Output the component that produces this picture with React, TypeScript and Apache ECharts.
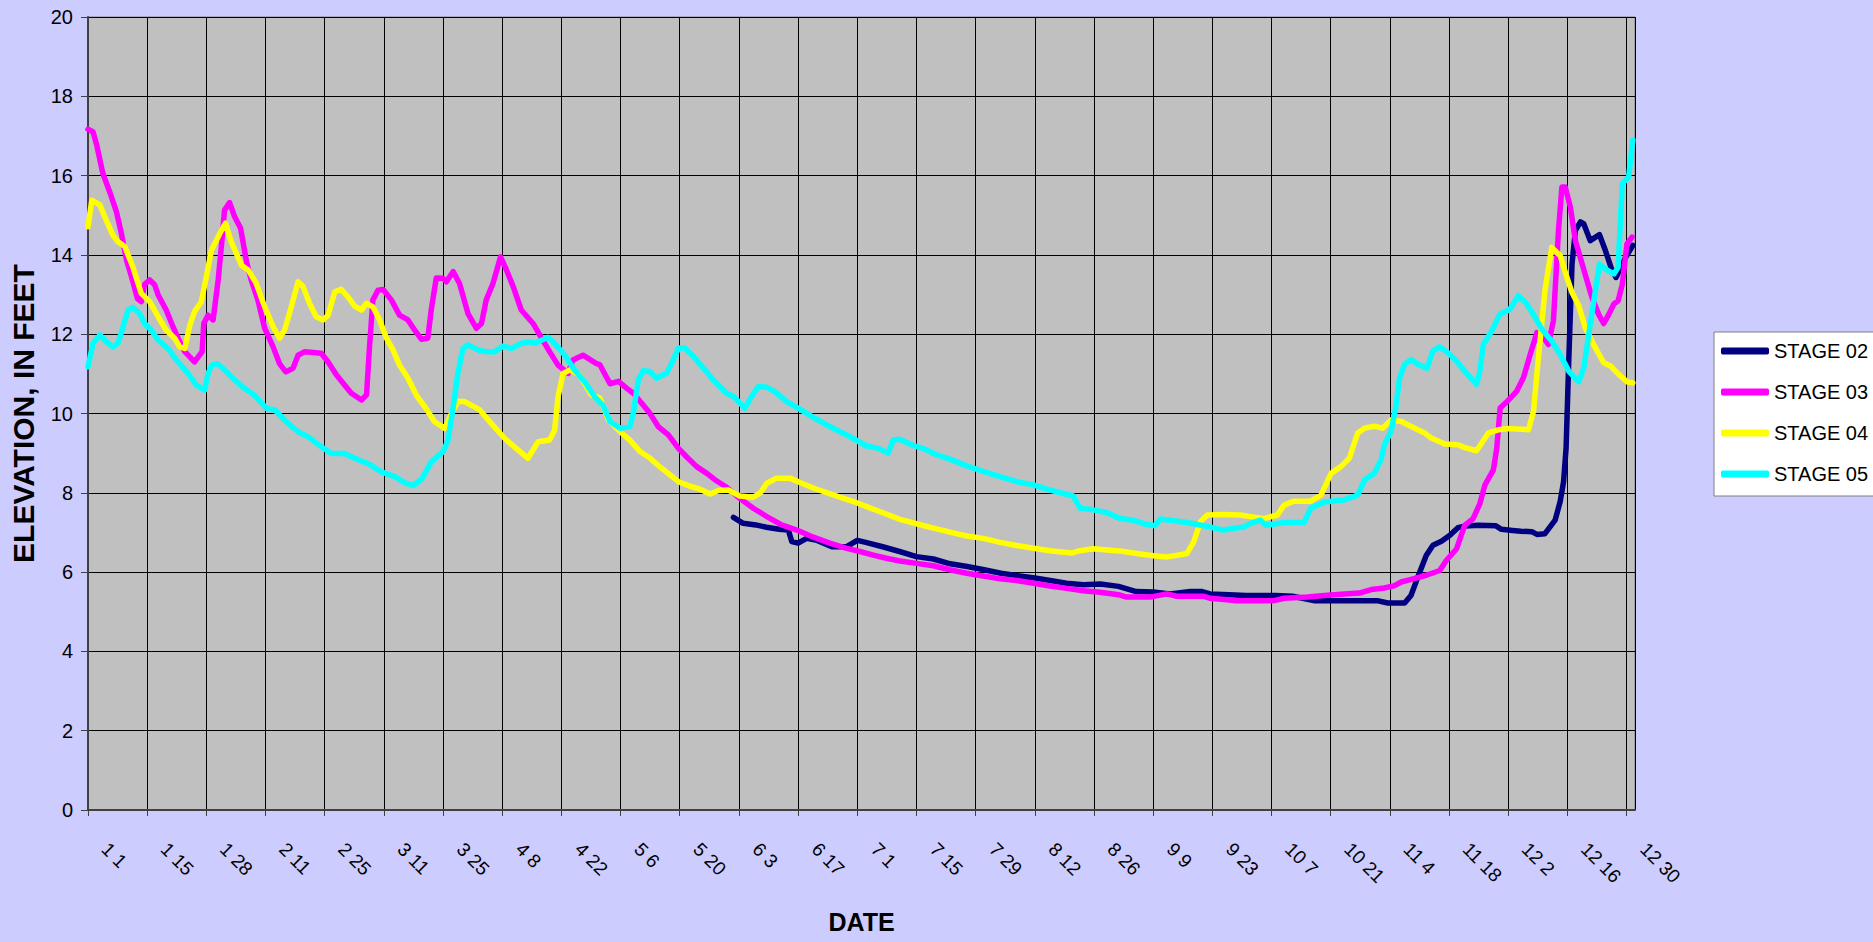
import React, { useEffect, useRef } from "react";
import * as echarts from "echarts";

// Tick labels on the date axis (one every 14 days, day index 0 = Jan 1)
const DATE_TICK_LABELS = [
  "1 1", "1 15", "1 28", "2 11", "2 25", "3 11", "3 25", "4 8", "4 22", "5 6",
  "5 20", "6 3", "6 17", "7 1", "7 15", "7 29", "8 12", "8 26", "9 9", "9 23",
  "10 7", "10 21", "11 4", "11 18", "12 2", "12 16", "12 30",
];

const SERIES_NAMES = ["STAGE 02", "STAGE 03", "STAGE 04", "STAGE 05"];

// [day index, elevation in feet]
const STAGE_02: [number, number][] = [
  [152.7, 7.38], [155, 7.23], [158, 7.19], [160.5, 7.13], [163.5, 7.08], [165.7, 7.06], [166.5, 6.77],
  [168, 6.73], [170, 6.85], [172.5, 6.8], [176, 6.64], [179.5, 6.64], [182, 6.8], [184, 6.75], [188, 6.64],
  [192, 6.52], [196, 6.39], [200, 6.33], [204, 6.21], [208, 6.14], [212, 6.06], [216, 5.97], [220, 5.91],
  [224, 5.85], [228, 5.78], [231.5, 5.72], [235.5, 5.68], [239.5, 5.7], [243.8, 5.64], [248, 5.51],
  [252, 5.5], [256, 5.45], [260.8, 5.51], [263.6, 5.51], [265.5, 5.45], [270, 5.43], [274, 5.41],
  [281, 5.41], [285, 5.39], [290, 5.28], [297, 5.28], [305, 5.28], [307.5, 5.22], [311.5, 5.22],
  [313, 5.41], [314.6, 5.87], [316.6, 6.42], [318.2, 6.68], [320.2, 6.78], [322.2, 6.93], [324.1, 7.12],
  [325.7, 7.16], [329, 7.18], [333, 7.17], [334.4, 7.08], [337, 7.05], [339, 7.03], [341.6, 7.02],
  [342.8, 6.95], [344.7, 6.97], [347.1, 7.31], [348.3, 7.78], [349.1, 8.28], [349.7, 9.13], [350.3, 11.24],
  [351.1, 13.77], [351.9, 14.62], [353.1, 14.83], [353.9, 14.78], [355.4, 14.36], [357.6, 14.51],
  [359, 14.11], [360.3, 13.69], [361.5, 13.43], [363.8, 13.94], [365.5, 14.24],
];

const STAGE_03: [number, number][] = [
  [0, 17.17], [1.2, 17.1], [2, 16.8], [3.5, 16.06], [5.1, 15.6], [6.7, 15.1], [7.9, 14.54], [9.1, 13.87],
  [10.3, 13.45], [11.7, 12.9], [12.6, 12.82], [13.4, 13.26], [14.6, 13.37], [15.8, 13.24], [16.6, 12.99],
  [18.5, 12.61], [20.1, 12.19], [21.3, 11.9], [22.9, 11.56], [25.2, 11.3], [27, 11.56], [27.4, 12.27],
  [28.4, 12.48], [29.6, 12.36], [30.8, 13.37], [31.7, 14.38], [32.3, 15.13], [33.5, 15.32], [34.7, 14.96],
  [36.1, 14.67], [37.5, 13.83], [38.6, 13.37], [40.2, 12.86], [41.8, 12.15], [43.8, 11.68], [45.3, 11.26],
  [46.8, 11.05], [48.5, 11.14], [49.7, 11.47], [51.3, 11.56], [55.2, 11.52], [56.8, 11.3], [58.8, 10.97],
  [60.7, 10.72], [62.3, 10.51], [64.7, 10.34], [65.9, 10.47], [66.6, 11.68], [67.4, 12.86], [68.6, 13.11],
  [69.8, 13.13], [71.8, 12.86], [73.7, 12.48], [75.7, 12.36], [77.3, 12.1], [78.9, 11.87], [80.4, 11.9],
  [81.2, 12.61], [82.4, 13.42], [84, 13.41], [84.8, 13.32], [86.4, 13.58], [87.9, 13.28], [89.9, 12.52],
  [91.9, 12.15], [93.1, 12.27], [94.2, 12.86], [95.8, 13.28], [97.6, 13.95], [99, 13.62], [100.6, 13.2],
  [102.5, 12.61], [105.3, 12.27], [107.3, 11.9], [109.2, 11.56], [111.2, 11.22], [113.6, 11.01],
  [114.7, 11.35], [117.1, 11.47], [120.3, 11.26], [121.1, 11.23], [123.5, 10.75], [125.5, 10.81],
  [127.4, 10.64], [129, 10.51], [131, 10.26], [132.9, 10.01], [134.9, 9.67], [137.3, 9.46], [139.7, 9.12],
  [141.6, 8.91], [144, 8.66], [146.4, 8.49], [148.3, 8.33], [151.1, 8.14], [154.2, 7.86], [157.4, 7.61],
  [160.6, 7.4], [164.1, 7.19], [167.7, 7.06], [171.6, 6.88], [175.5, 6.73], [179.5, 6.6], [182.6, 6.52],
  [185.8, 6.43], [188.9, 6.35], [192.1, 6.28], [196, 6.22], [200, 6.16], [203.9, 6.06], [207.9, 5.97],
  [211.8, 5.9], [215.8, 5.83], [219.7, 5.79], [223.7, 5.72], [227.6, 5.65], [231.5, 5.59], [235.5, 5.53],
  [239.4, 5.49], [243.8, 5.43], [245.7, 5.37], [251.3, 5.37], [255.2, 5.45], [257.6, 5.39], [264, 5.39],
  [265.5, 5.34], [271.9, 5.28], [280.6, 5.28], [283, 5.34], [288.5, 5.37], [292.5, 5.41], [297.2, 5.45],
  [300.8, 5.47], [303.6, 5.56], [306.7, 5.6], [309.1, 5.66], [310.7, 5.75], [313.5, 5.83], [316.6, 5.92],
  [319.8, 6.04], [321.4, 6.3], [323.8, 6.59], [325.7, 7.18], [327.7, 7.35], [329.3, 7.73], [330.5, 8.2],
  [332.5, 8.58], [333.3, 9.13], [334.1, 10.14], [336, 10.33], [338, 10.56], [339.6, 10.9], [341.2, 11.49],
  [342.8, 12.04], [344.4, 11.91], [345.5, 11.74], [346.7, 12.34], [347.9, 14.62], [348.7, 15.71],
  [349.5, 15.71], [350.7, 15.21], [351.9, 14.36], [353.5, 13.77], [355.8, 12.93], [357.4, 12.5],
  [358.6, 12.27], [359.8, 12.5], [361, 12.76], [362, 12.84], [363, 13.26], [364.1, 14.28], [365.3, 14.45],
];

const STAGE_04: [number, number][] = [
  [0, 14.71], [0.9, 15.38], [2.8, 15.26], [4.3, 14.88], [5.9, 14.5], [7.1, 14.33], [8.7, 14.21],
  [10.6, 13.7], [12.6, 13.03], [14.6, 12.82], [16.6, 12.44], [18.5, 12.1], [20.5, 11.9], [21.7, 11.68],
  [22.9, 11.64], [24.1, 12.23], [25.2, 12.57], [26.8, 12.82], [28, 13.45], [29.2, 14.12], [31.2, 14.54],
  [32.5, 14.8], [33.9, 14.33], [36.3, 13.74], [37.9, 13.62], [39.8, 13.28], [41.8, 12.69], [43.8, 12.19],
  [45.3, 11.9], [46.5, 12.1], [48.1, 12.69], [49.7, 13.32], [50.9, 13.2], [52.4, 12.78], [54, 12.44],
  [55.6, 12.36], [56.8, 12.48], [58.4, 13.07], [59.9, 13.13], [61.5, 12.94], [63.1, 12.71], [64.7, 12.61],
  [65.9, 12.78], [67.4, 12.69], [69, 12.36], [70.6, 11.9], [72.2, 11.6], [73.7, 11.22], [75.7, 10.89],
  [77.7, 10.46], [79.7, 10.17], [82, 9.79], [84.4, 9.62], [86, 10], [87.5, 10.3], [89.1, 10.3],
  [92.7, 10.09], [95.4, 9.75], [98.6, 9.37], [101.3, 9.12], [104.1, 8.87], [106.5, 9.29], [109.2, 9.33],
  [110.4, 9.58], [111.2, 10.42], [112.4, 11.01], [114, 11.1], [116.3, 10.97], [119.1, 10.47],
  [121.1, 10.39], [123.1, 9.84], [125.9, 9.54], [128.2, 9.33], [130.6, 9.04], [133, 8.87], [135.7, 8.62],
  [139.7, 8.28], [142.4, 8.17], [144.8, 8.09], [147.2, 7.97], [149.1, 8.06], [151.5, 8.07], [154.2, 7.92],
  [157.4, 7.89], [159, 7.99], [160.6, 8.24], [162.9, 8.37], [166.1, 8.37], [168.4, 8.26], [172.4, 8.09],
  [176.3, 7.95], [181.1, 7.78], [184.2, 7.65], [188.2, 7.49], [192.1, 7.33], [196, 7.22], [200, 7.11],
  [203.9, 7.01], [207.9, 6.91], [211.8, 6.85], [215.8, 6.75], [219.7, 6.67], [223.7, 6.6], [227.6, 6.54],
  [232.7, 6.48], [234.7, 6.54], [237.8, 6.59], [241.8, 6.55], [244.2, 6.53], [248.1, 6.47], [252.1, 6.41],
  [255.2, 6.38], [256.8, 6.41], [260, 6.47], [261.6, 6.76], [263.2, 7.27], [264.8, 7.44], [268.7, 7.45],
  [272.7, 7.44], [275, 7.4], [278.2, 7.35], [281.4, 7.44], [283, 7.69], [285.3, 7.79], [289.3, 7.79],
  [291.7, 7.94], [294.1, 8.49], [296.4, 8.66], [298.4, 8.87], [300.4, 9.51], [302, 9.63], [304.3, 9.68],
  [306.3, 9.63], [308.3, 9.84], [310.7, 9.8], [313.9, 9.63], [316.2, 9.51], [317.8, 9.38], [321, 9.23],
  [324.1, 9.21], [325.7, 9.14], [328.5, 9.06], [329.7, 9.25], [331.3, 9.51], [333.7, 9.59], [336, 9.62],
  [338, 9.61], [340.8, 9.59], [342, 10.06], [343, 11.24], [344.7, 13.1], [346.3, 14.19], [348.3, 13.98],
  [349.9, 13.43], [351.1, 13.05], [352.7, 12.72], [354.2, 12.17], [356.6, 11.66], [358.6, 11.28],
  [360.2, 11.2], [362.2, 10.98], [364.1, 10.8], [365.5, 10.77],
];

const STAGE_05: [number, number][] = [
  [0, 11.18], [1.2, 11.77], [2.8, 11.98], [4.3, 11.81], [5.9, 11.68], [7.1, 11.77], [8.3, 12.19],
  [9.5, 12.61], [10.6, 12.68], [12.2, 12.52], [13.4, 12.27], [15, 12.1], [16.6, 11.85], [18.9, 11.64],
  [20.9, 11.35], [23.7, 11.01], [25.6, 10.72], [27.6, 10.59], [28.4, 11.01], [29.3, 11.22], [30.6, 11.26],
  [32.3, 11.1], [34.7, 10.84], [37.1, 10.63], [39.4, 10.46], [42.2, 10.13], [44.2, 10.09], [46.5, 9.83],
  [49.7, 9.54], [52.1, 9.41], [55.2, 9.16], [57.6, 8.99], [60.7, 8.99], [63.1, 8.87], [66.2, 8.74],
  [69.4, 8.53], [72.6, 8.41], [75, 8.25], [77, 8.18], [79, 8.35], [81.2, 8.78], [84, 9.04], [85.2, 9.33],
  [86.4, 10.17], [87.5, 11.01], [88.7, 11.64], [89.9, 11.73], [92.7, 11.58], [94.6, 11.56], [96.2, 11.56],
  [98.2, 11.7], [100.2, 11.64], [102.5, 11.77], [104.1, 11.81], [105.7, 11.77], [107.3, 11.85],
  [108.8, 11.92], [110.4, 11.77], [112.8, 11.47], [115.1, 11.1], [117.5, 10.8], [119.9, 10.42],
  [121.8, 10.21], [123.5, 9.8], [125.9, 9.63], [128.2, 9.67], [129, 10.01], [130.2, 10.85], [131.4, 11.08],
  [132.9, 11.06], [134.5, 10.89], [136.9, 11.02], [138.1, 11.27], [139.7, 11.65], [141.2, 11.65],
  [143.2, 11.44], [145.6, 11.14], [147.9, 10.85], [151.1, 10.51], [152.7, 10.43], [155.4, 10.13],
  [157, 10.43], [158.6, 10.68], [160.6, 10.66], [162.5, 10.55], [165.3, 10.3], [168.4, 10.11],
  [171.6, 9.9], [175.5, 9.67], [179.5, 9.46], [184.2, 9.18], [187, 9.12], [189.3, 9], [190.5, 9.33],
  [192.1, 9.35], [195.3, 9.19], [197.6, 9.12], [200.8, 8.96], [203.9, 8.85], [207.9, 8.68], [211.8, 8.54],
  [215.8, 8.41], [219.7, 8.28], [223.7, 8.2], [227.6, 8.07], [233.1, 7.92], [234.7, 7.61], [237.8, 7.57],
  [241, 7.5], [244.2, 7.35], [247.3, 7.31], [250.5, 7.2], [252.5, 7.17], [253.7, 7.34], [256, 7.31],
  [260, 7.25], [264, 7.17], [268.7, 7.06], [271.9, 7.12], [273.5, 7.14], [275, 7.23], [277.4, 7.31],
  [278.6, 7.18], [283, 7.25], [287.7, 7.25], [289.3, 7.61], [292.5, 7.77], [297.2, 7.82], [300.4, 7.94],
  [302, 8.32], [304.3, 8.49], [305.9, 8.83], [306.7, 9.21], [308.3, 9.55], [309.5, 10.22], [310.3, 10.9],
  [311.5, 11.24], [313.1, 11.36], [314.6, 11.24], [316.8, 11.14], [318.2, 11.58], [319.8, 11.68],
  [321.8, 11.53], [323.8, 11.32], [325.7, 11.07], [328.5, 10.73], [329.3, 11.07], [330.1, 11.74],
  [332.1, 12.08], [334, 12.5], [336.4, 12.63], [338.4, 12.97], [340.4, 12.76], [342.4, 12.42], [344, 12.12],
  [346.3, 11.83], [348.3, 11.49], [350.3, 11.07], [352.7, 10.8], [353.9, 11.15], [355.4, 12.25],
  [357.6, 13.77], [359, 13.64], [361, 13.52], [362, 13.69], [363, 15.8], [364.5, 15.97], [365.5, 16.9],
];

const SERIES_DATA = [STAGE_02, STAGE_03, STAGE_04, STAGE_05];
const SERIES_COLORS = ["#000080", "#FF00FF", "#FFFF00", "#00FFFF"];

const FONT = "'Liberation Sans', Arial, Helvetica, sans-serif";

export default function App() {
  const ref = useRef<HTMLDivElement>(null);

  useEffect(() => {
    if (!ref.current) return;
    const chart = echarts.init(ref.current, null, { renderer: "svg" });
    chart.setOption({
      animation: false,
      backgroundColor: "#CCCCFF",
      textStyle: { fontFamily: FONT },
      grid: {
        left: 88,
        top: 17,
        width: 1547,
        height: 793,
        show: true,
        backgroundColor: "#C0C0C0",
        borderColor: "#808080",
        borderWidth: 1,
      },
      legend: {
        orient: "vertical",
        left: 1714,
        top: 332,
        padding: [9, 10, 12, 7],
        itemGap: 21,
        itemWidth: 48,
        itemHeight: 7,
        icon: "roundRect",
        backgroundColor: "#FFFFFF",
        borderColor: "#808080",
        borderWidth: 1,
        selectedMode: false,
        data: SERIES_NAMES,
        textStyle: { fontSize: 20, color: "#000", fontFamily: FONT, lineHeight: 20 },
      },
      xAxis: {
        type: "value",
        min: 0,
        max: 366,
        interval: 14,
        name: "DATE",
        nameLocation: "middle",
        nameGap: 99,
        nameTextStyle: { fontSize: 25, fontWeight: "bold", color: "#000", fontFamily: FONT },
        axisLine: { show: true, onZero: false, lineStyle: { color: "#404040", width: 2 } },
        axisTick: { show: true, length: 6, lineStyle: { color: "#404040", width: 1 } },
        splitLine: { show: true, lineStyle: { color: "#000", width: 1 } },
        axisLabel: {
          rotate: -45,
          margin: 19,
          padding: [0, 0, 0, 24],
          fontSize: 19,
          color: "#000",
          fontFamily: FONT,
          showMaxLabel: false,
          formatter: (v: number) => {
            const i = Math.round(v / 14);
            return Math.abs(v - i * 14) < 1e-6 && i < DATE_TICK_LABELS.length ? DATE_TICK_LABELS[i] : "";
          },
        },
      },
      yAxis: {
        type: "value",
        min: 0,
        max: 20,
        interval: 2,
        name: "ELEVATION, IN FEET",
        nameLocation: "middle",
        nameRotate: 90,
        nameGap: 50,
        nameTextStyle: { fontSize: 30, fontWeight: "bold", color: "#000", fontFamily: FONT },
        axisLine: { show: true, lineStyle: { color: "#404040", width: 2 } },
        axisTick: { show: true, length: 7, lineStyle: { color: "#404040", width: 1 } },
        splitLine: { show: true, lineStyle: { color: "#000", width: 1 } },
        axisLabel: { fontSize: 20, margin: 15, color: "#000", fontFamily: FONT },
      },
      series: SERIES_NAMES.map((name, i) => ({
        name,
        type: "line",
        data: SERIES_DATA[i],
        showSymbol: false,
        symbol: "none",
        silent: true,
        color: SERIES_COLORS[i],
        lineStyle: { color: SERIES_COLORS[i], width: 5.5, cap: "round", join: "round" },
        emphasis: { disabled: true },
      })),
    });
    return () => chart.dispose();
  }, []);

  return (
    <div
      ref={ref}
      style={{ position: "fixed", left: 0, top: 0, width: 1873, height: 942 }}
    />
  );
}
